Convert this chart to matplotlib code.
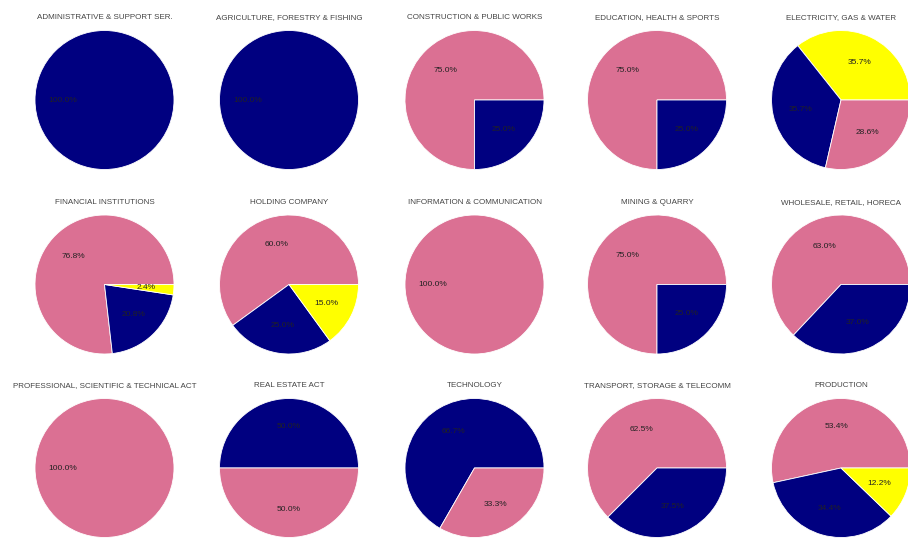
import matplotlib
matplotlib.use('Agg')
import matplotlib.pyplot as plt

plt.rcParams['font.family'] = ['Liberation Sans', 'DejaVu Sans']

sectors = ['ADMINISTRATIVE & SUPPORT SER.', 'AGRICULTURE, FORESTRY & FISHING',
           'CONSTRUCTION & PUBLIC WORKS', 'EDUCATION, HEALTH & SPORTS',
           'ELECTRICITY, GAS & WATER',
           'FINANCIAL INSTITUTIONS', 'HOLDING COMPANY',
           'INFORMATION & COMMUNICATION', 'MINING & QUARRY',
           'WHOLESALE, RETAIL, HORECA',
           'PROFESSIONAL, SCIENTIFIC & TECHNICAL ACT', 'REAL ESTATE ACT',
           'TECHNOLOGY', 'TRANSPORT, STORAGE & TELECOMM', 'PRODUCTION']

# share of each group per sector, in plotting order
shares = [[100.0], [100.0], [75.0, 25.0], [75.0, 25.0], [35.7, 35.7, 28.6],
          [76.8, 20.8, 2.4], [60.0, 25.0, 15.0], [100.0], [75.0, 25.0], [63.0, 37.0],
          [100.0], [50.0, 50.0], [66.7, 33.3], [62.5, 37.5], [53.4, 34.4, 12.2]]
groups = [['B'], ['B'], ['A', 'B'], ['A', 'B'], ['C', 'B', 'A'],
          ['A', 'B', 'C'], ['A', 'B', 'C'], ['A'], ['A', 'B'], ['A', 'B'],
          ['A'], ['B', 'A'], ['B', 'A'], ['A', 'B'], ['A', 'B', 'C']]

group_colors = {'A': 'palevioletred', 'B': 'navy', 'C': 'yellow'}

W, H = 908, 539
fig = plt.figure(figsize=(W / 100, H / 100), dpi=100)

col_x = [104.5, 289, 474.5, 657, 841]
row_y = [100, 284.5, 468]
r_px = 69.5
side = 150

for i, name in enumerate(sectors):
    cx = col_x[i % 5]
    cy = row_y[i // 5]
    ax = fig.add_axes([(cx - side / 2) / W, 1 - (cy + side / 2) / H, side / W, side / H])
    ax.pie(shares[i], colors=[group_colors[g] for g in groups[i]],
           autopct='%1.1f%%', wedgeprops={'edgecolor': 'white', 'linewidth': 0.6},
           textprops={'fontsize': 6, 'color': '#222222'})
    lim = side / 2 / r_px
    ax.set_xlim(-lim, lim)
    ax.set_ylim(-lim, lim)
    ax.set_title(name, fontsize=5.8, color='#444444', pad=4)

fig.savefig('out.png', dpi=100)
